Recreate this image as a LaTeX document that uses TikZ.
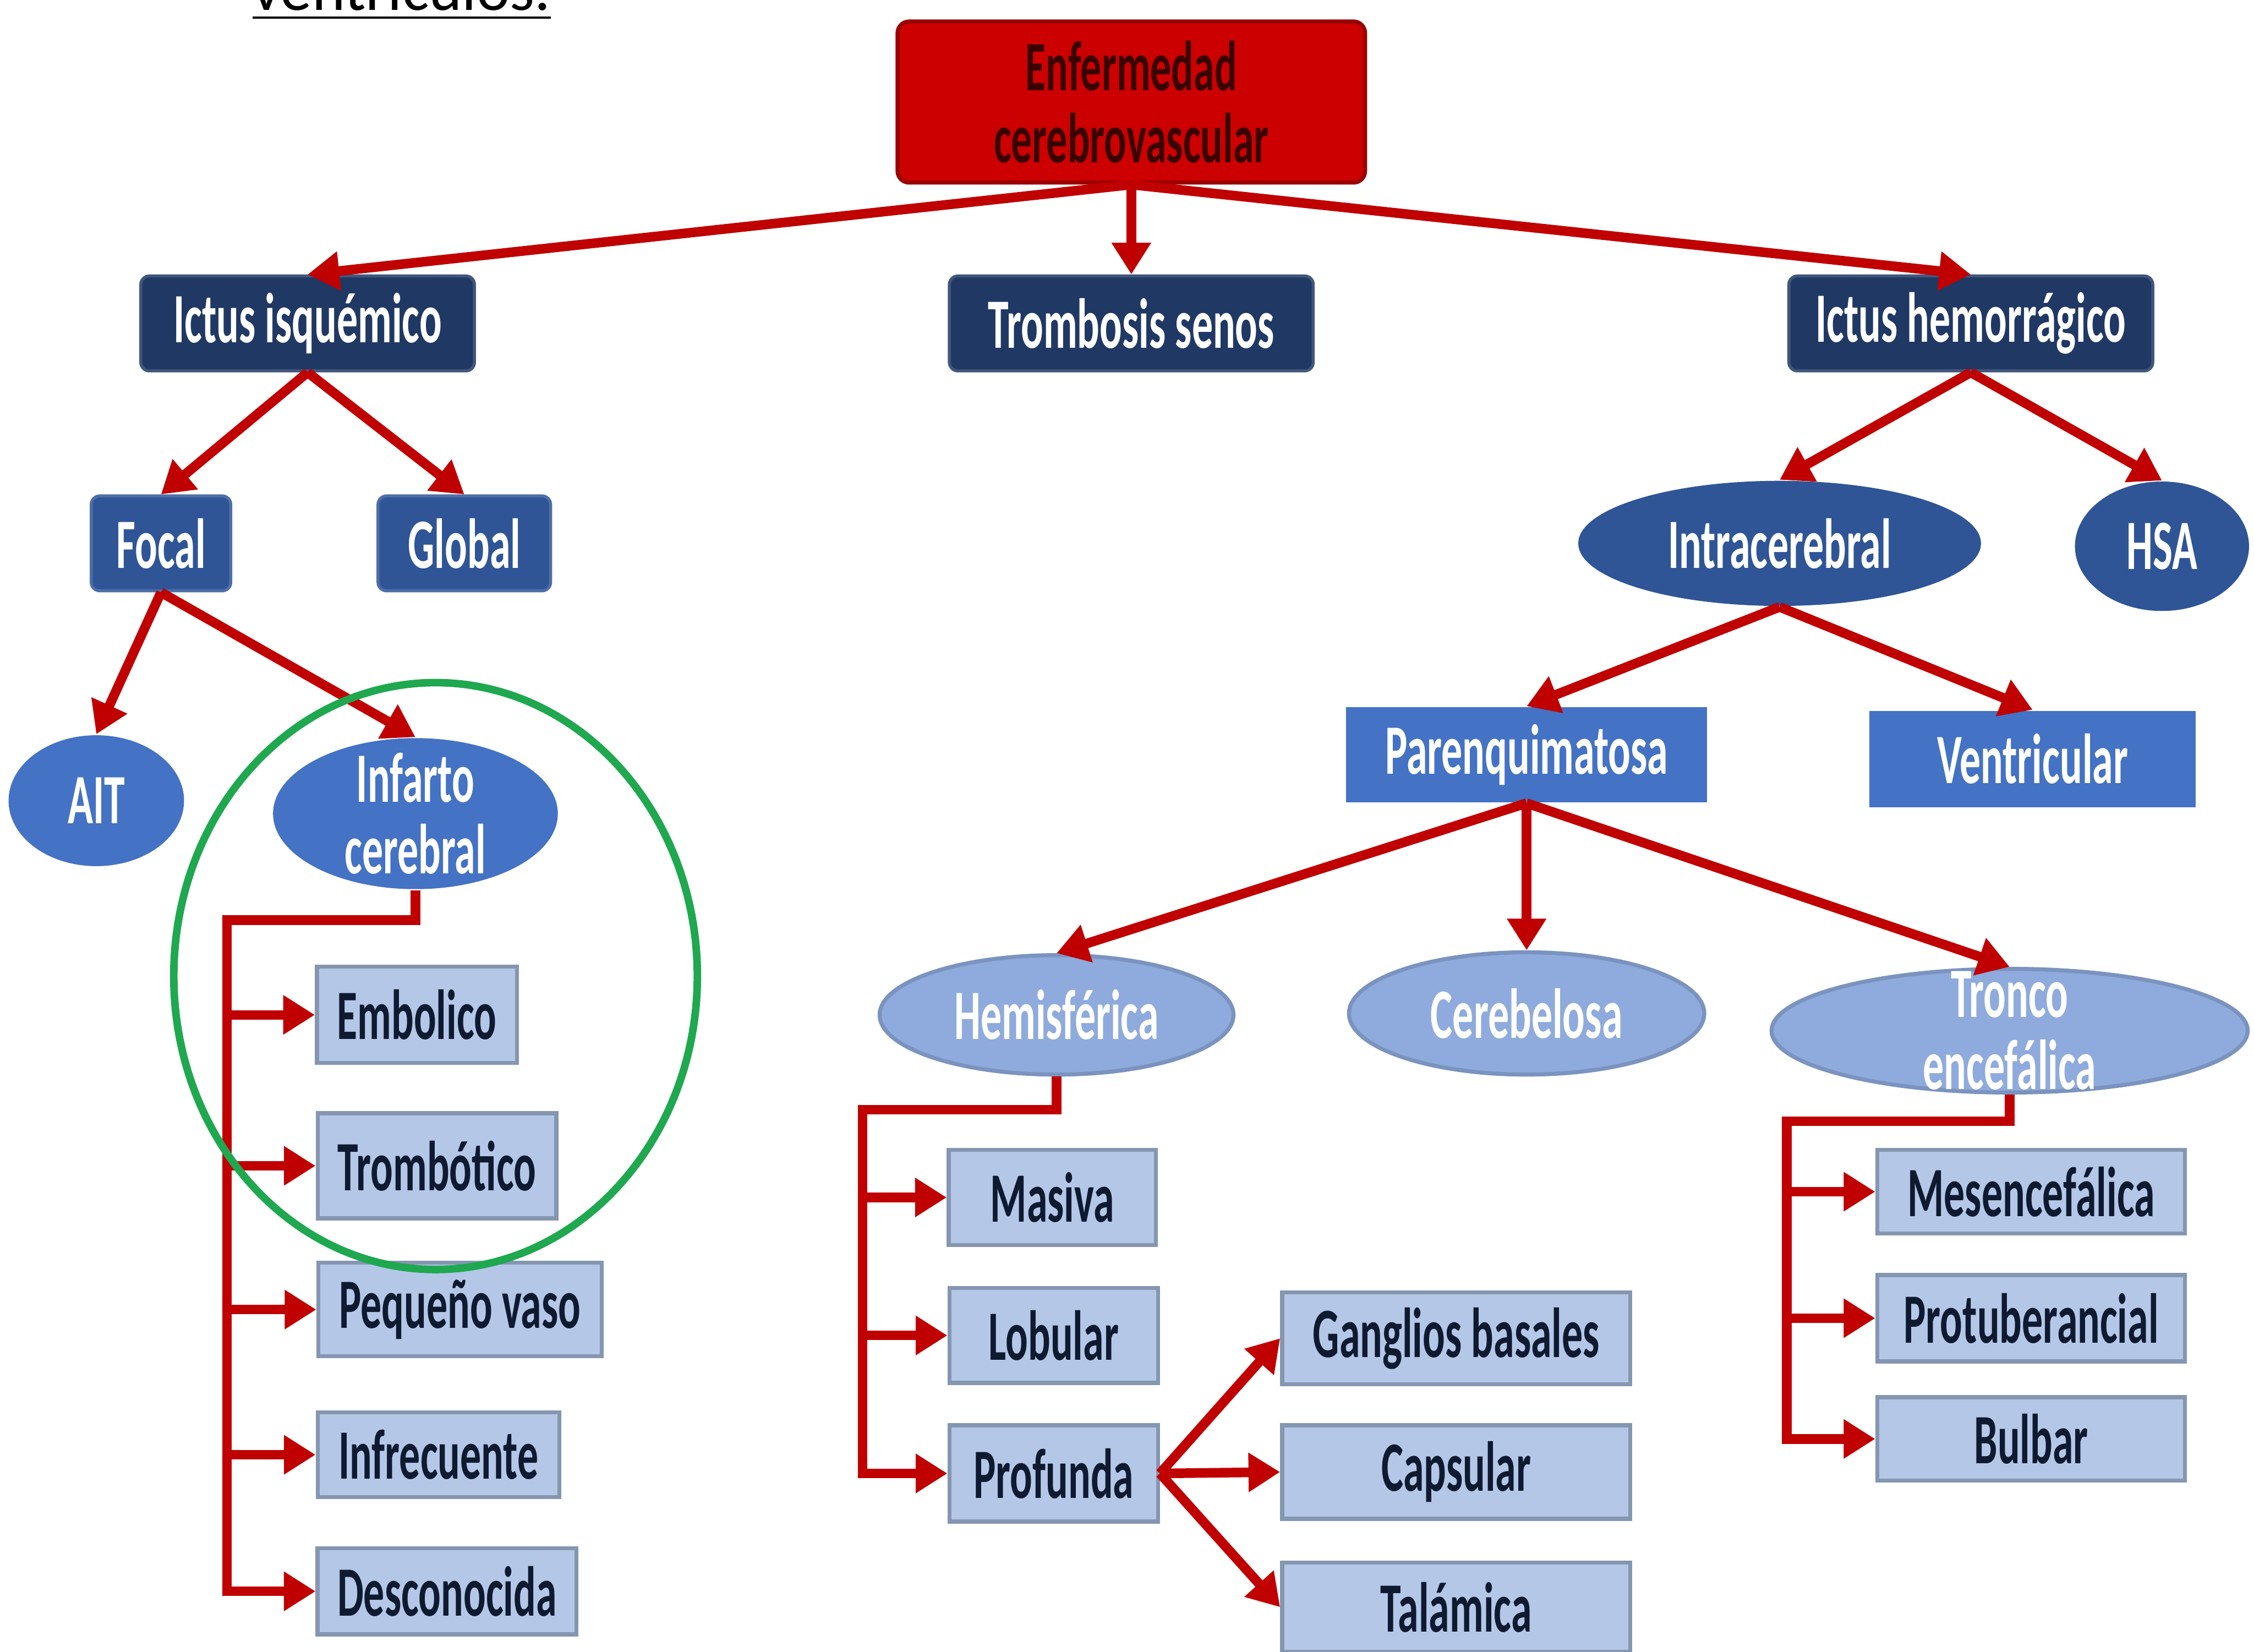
\documentclass[tikz,border=0pt]{standalone}
\usepackage{fontspec}
\usetikzlibrary{arrows.meta,shapes.geometric,calc}
\newfontfamily\cf{Carlito}[FakeStretch=0.59]
\newfontfamily\cfr{Carlito}
\definecolor{arrred}{HTML}{C00000}
\definecolor{rootred}{HTML}{CC0000}
\definecolor{rootborder}{HTML}{9A0000}
\definecolor{roottext}{HTML}{3A0000}
\definecolor{navy}{HTML}{203864}
\definecolor{midblue}{HTML}{2F5597}
\definecolor{medblue}{HTML}{4472C4}
\definecolor{liteblue}{HTML}{8FAADC}
\definecolor{litebord}{HTML}{7A93BF}
\definecolor{paleblue}{HTML}{B4C7E7}
\definecolor{palebord}{HTML}{8496B0}
\definecolor{darktext}{HTML}{0E1A30}
\definecolor{grn}{HTML}{1FA84F}
\begin{document}
\begin{tikzpicture}[x=0.01cm,y=-0.01cm,
  base/.style={inner sep=0pt, font=\cf\bfseries\fontsize{14}{14.2}\selectfont, align=center},
  rootbox/.style={base, rectangle, rounded corners=0.08cm, fill=rootred, draw=rootborder, line width=0.8pt, text=roottext},
  navybox/.style={base, rectangle, rounded corners=0.06cm, fill=navy, draw=navy!85!white, line width=0.6pt, text=white},
  midbox/.style={base, rectangle, rounded corners=0.06cm, fill=midblue, draw=midblue!85!white, line width=0.6pt, text=white},
  medbox/.style={base, rectangle, fill=medblue, text=white},
  palebox/.style={base, rectangle, fill=paleblue, draw=palebord, line width=0.8pt, text=darktext},
  midell/.style={ellipse, inner sep=0pt, fill=midblue},
  medell/.style={ellipse, inner sep=0pt, fill=medblue},
  liteell/.style={ellipse, inner sep=0pt, fill=liteblue, draw=litebord, line width=0.8pt},
  wtext/.style={base, text=white},
  conn/.style={draw=arrred, line width=1.9pt, line join=miter},
  arr/.style={conn, -{Triangle[length=0.22cm,width=0.26cm]}}
]
\useasboundingbox (0,0) rectangle (1568,1149);

% title fragment
\node[anchor=base west, inner sep=0pt, font=\cfr\fontsize{12.5}{14}\selectfont] (title) at (175,7) {\underline{ventrículos.}};

% nodes
\node[rootbox, minimum width=3.25cm, minimum height=1.12cm] (root) at (787,71) {Enfermedad\\cerebrovascular};
\node[navybox, minimum width=2.32cm, minimum height=0.66cm] (ii) at (214,225) {Ictus isquémico};
\node[navybox, minimum width=2.53cm, minimum height=0.66cm] (ts) at (787,225) {Trombosis senos};
\node[navybox, minimum width=2.53cm, minimum height=0.66cm] (ih) at (1371,225) {Ictus hemorrágico};

\node[midbox, minimum width=0.97cm, minimum height=0.66cm] (foc) at (112,378) {Focal};
\node[midbox, minimum width=1.20cm, minimum height=0.66cm] (glo) at (323,378) {Global};
\node[midell, minimum width=2.80cm, minimum height=0.87cm] (intra) at (1238,378) {};
\node[wtext] (intra-t) at (intra.center) {Intracerebral};
\node[midell, minimum width=1.21cm, minimum height=0.90cm] (hsa) at (1504,380) {};
\node[wtext] (hsa-t) at (hsa.center) {HSA};

\node[medell, minimum width=1.22cm, minimum height=0.91cm] (ait) at (67,557) {};
\node[wtext] (ait-t) at (ait.center) {AIT};
\node[medell, minimum width=1.98cm, minimum height=1.05cm] (inf) at (289,566) {};
\node[wtext] (inf-t) at (inf.center) {Infarto\\cerebral};
\node[medbox, minimum width=2.51cm, minimum height=0.66cm] (par) at (1062,525) {Parenquimatosa};
\node[medbox, minimum width=2.27cm, minimum height=0.67cm] (ven) at (1414,528) {Ventricular};

\node[liteell, minimum width=2.46cm, minimum height=0.83cm] (hem) at (735,706) {};
\node[wtext] (hem-t) at (hem.center) {Hemisférica};
\node[liteell, minimum width=2.47cm, minimum height=0.85cm] (cer) at (1062,705) {};
\node[wtext] (cer-t) at (cer.center) {Cerebelosa};
\node[liteell, minimum width=3.31cm, minimum height=0.86cm] (tro) at (1398,717) {};
\node[wtext] (tro-t) at (tro.center) {Tronco\\encefálica};

\node[palebox, minimum width=1.39cm, minimum height=0.67cm] (emb) at (290,706) {Embolico};
\node[palebox, minimum width=1.66cm, minimum height=0.73cm] (trb) at (304,811) {Trombótico};
\node[palebox, minimum width=1.97cm, minimum height=0.65cm] (peq) at (320,911) {Pequeño vaso};
\node[palebox, minimum width=1.68cm, minimum height=0.59cm] (infr) at (305,1012) {Infrecuente};
\node[palebox, minimum width=1.80cm, minimum height=0.60cm] (des) at (311,1107) {Desconocida};

\node[palebox, minimum width=1.44cm, minimum height=0.66cm] (mas) at (732,833) {Masiva};
\node[palebox, minimum width=1.45cm, minimum height=0.66cm] (lob) at (733,929) {Lobular};
\node[palebox, minimum width=1.45cm, minimum height=0.67cm] (pro) at (733,1025) {Profunda};
\node[palebox, minimum width=2.42cm, minimum height=0.64cm] (gan) at (1013,931) {Ganglios basales};
\node[palebox, minimum width=2.42cm, minimum height=0.65cm] (cap) at (1013,1024) {Capsular};
\node[palebox, minimum width=2.42cm, minimum height=0.62cm] (tal) at (1013,1118) {Talámica};

\node[palebox, minimum width=2.14cm, minimum height=0.58cm] (mes) at (1413,829) {Mesencefálica};
\node[palebox, minimum width=2.14cm, minimum height=0.60cm] (prt) at (1413,917) {Protuberancial};
\node[palebox, minimum width=2.14cm, minimum height=0.58cm] (bul) at (1413,1001) {Bulbar};

% connectors
\draw[arr] (root.south) -- (ii.north);
\draw[arr] (root.south) -- (ts.north);
\draw[arr] (root.south) -- (ih.north);
\draw[arr] (ii.south) -- (foc.north);
\draw[arr] (ii.south) -- (glo.north);
\draw[arr] (ih.south) -- (intra.north);
\draw[arr] (ih.south) -- (hsa.north);
\draw[arr] (foc.south) -- (ait.north);
\draw[arr] (foc.south) -- (inf.north);
\draw[arr] (intra.south) -- (par.north);
\draw[arr] (intra.south) -- (ven.north);
\draw[arr] (par.south) -- (hem.north);
\draw[arr] (par.south) -- (cer.north);
\draw[arr] (par.south) -- (tro.north);

\coordinate (b1) at (158,640);
\draw[arr] (inf.south) -- (inf.south |- b1) -- (b1) -- (b1 |- des.west) -- (des.west);
\draw[arr] (b1 |- emb.west) -- (emb.west);
\draw[arr] (b1 |- trb.west) -- (trb.west);
\draw[arr] (b1 |- peq.west) -- (peq.west);
\draw[arr] (b1 |- infr.west) -- (infr.west);

\coordinate (b2) at (600,772);
\draw[arr] (hem.south) -- (hem.south |- b2) -- (b2) -- (b2 |- pro.west) -- (pro.west);
\draw[arr] (b2 |- mas.west) -- (mas.west);
\draw[arr] (b2 |- lob.west) -- (lob.west);

\draw[arr] (pro.east) -- (gan.west);
\draw[arr] (pro.east) -- (cap.west);
\draw[arr] (pro.east) -- (tal.west);

\coordinate (b3) at (1243,780);
\draw[arr] (tro.south) -- (tro.south |- b3) -- (b3) -- (b3 |- bul.west) -- (bul.west);
\draw[arr] (b3 |- mes.west) -- (mes.west);
\draw[arr] (b3 |- prt.west) -- (prt.west);

% highlight
\draw[grn, line width=1.5pt] (303,679) ellipse [x radius=1.82cm, y radius=2.04cm];
\end{tikzpicture}
\end{document}
